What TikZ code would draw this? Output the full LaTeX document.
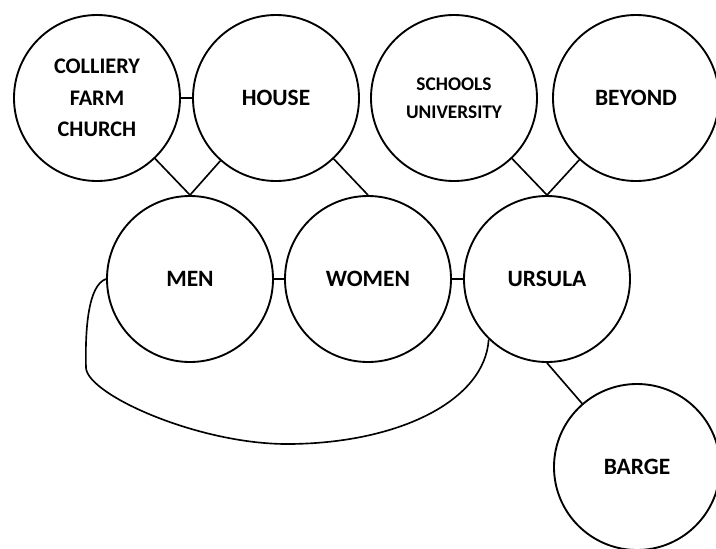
\documentclass[tikz,border=0pt]{standalone}
\usepackage{fontspec}
\setmainfont{Carlito}

\begin{document}
\begin{tikzpicture}[x=0.03cm,y=-0.03cm,
	topic/.style={circle,draw,line width=1.6pt,minimum size=4.98cm,inner sep=0pt,align=center,font=\bfseries\fontsize{20}{24}\selectfont},
	every edge/.append style={line width=1.4pt}]
	\useasboundingbox (0,0) rectangle (716,548);
	\node[topic,font=\bfseries\fontsize{19}{27}\selectfont] (CFC) at (97,98) {COLLIERY\\FARM\\CHURCH};
	\node[topic] (HOUSE) at (276,98) {HOUSE};
	\node[topic,font=\bfseries\fontsize{16.5}{23.5}\selectfont] (SCHOOL) at (454,98) {SCHOOLS\\UNIVERSITY};
	\node[topic] (BEYOND) at (636,98) {BEYOND};
	\node[topic] (MEN) at (190,279) {MEN};
	\node[topic] (WOMEN) at (368,279) {WOMEN};
	\node[topic] (URSULA) at (547,279) {URSULA};
	\node[topic] (BARGE) at (637,467) {BARGE};
	\path (CFC)
		edge (HOUSE)
		edge[-] (MEN.north);
	\path (HOUSE)
		edge (MEN.north)
		edge (WOMEN.north);
	\path (SCHOOL) edge (URSULA.north);
	\path (BEYOND) edge (URSULA.north);
	\path (MEN) edge (WOMEN);
	\path (WOMEN) edge (URSULA);
	\path (URSULA.south) edge (BARGE);
	% the long loop under the row
	\draw[line width=1.4pt] (MEN.west) .. controls (88,285) and (85,330) .. (86,368)
		.. controls (88,395) and (200,445) .. (290,444)
		.. controls (400,443) and (485,400) .. (URSULA.226);
\end{tikzpicture}
\end{document}
